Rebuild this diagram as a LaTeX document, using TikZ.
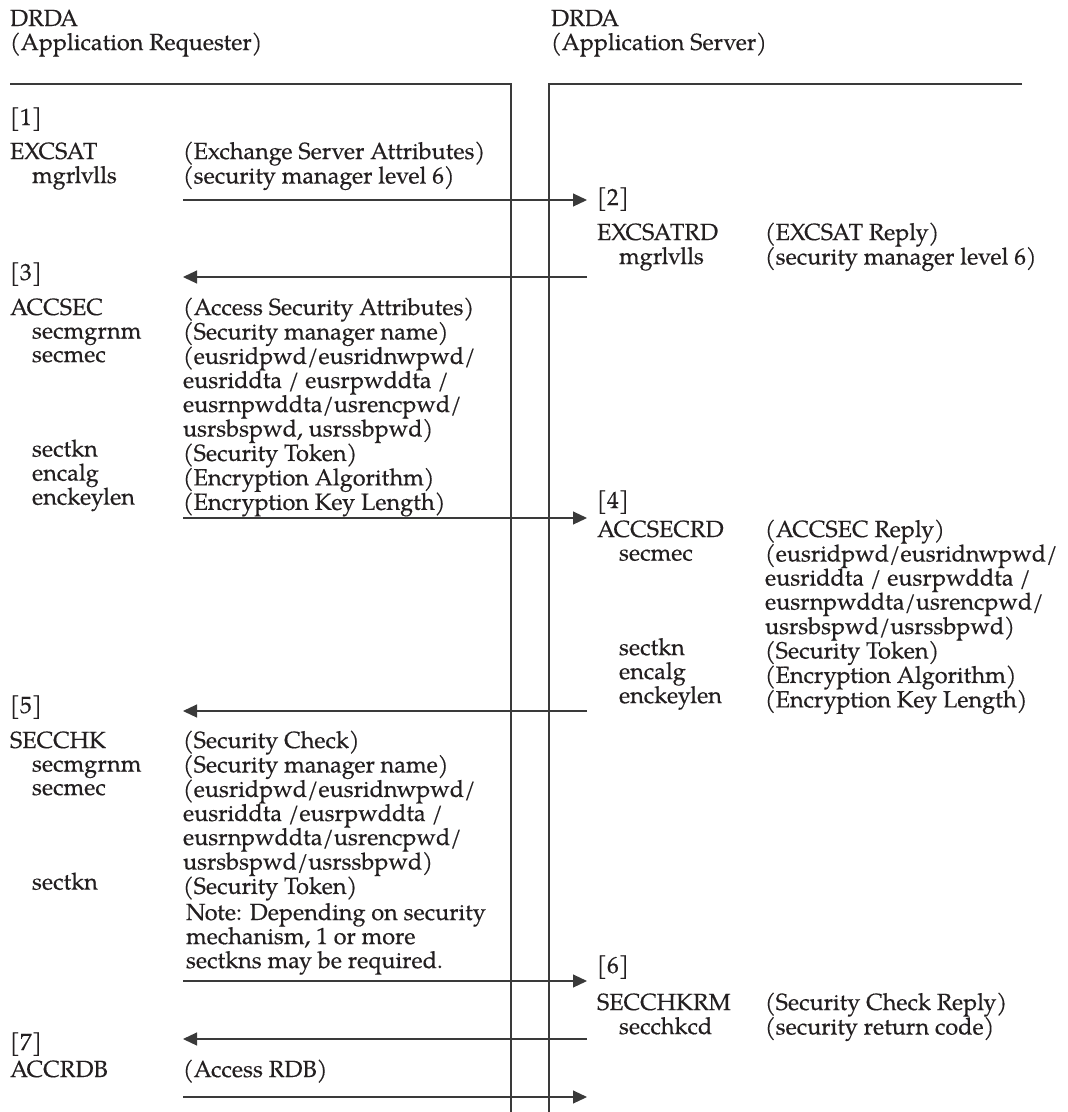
\documentclass[tikz,border=0pt]{standalone}
\usepackage{fontspec}
\setmainfont{texgyrepagella-regular.otf}[FakeBold=0.4]
\usetikzlibrary{arrows.meta}
\definecolor{ink}{HTML}{231F20}
\definecolor{linegray}{HTML}{3A3A3A}
% a column of lines whose first baseline is the node's baseline
\newcommand{\msgrows}[1]{\begin{tabular}[t]{@{}l@{}}#1\end{tabular}}
\newcommand{\argin}{\hspace*{22pt}}
\begin{document}
\begin{tikzpicture}[x=1pt,y=-1pt,
  txt/.style={anchor=base west, inner sep=0pt, outer sep=0pt,
    font=\fontsize{23.4}{23.5}\selectfont\bfseries, text=ink},
  rule/.style={draw=linegray, line width=1.1pt},
  msg/.style={draw=linegray, line width=1.1pt,
    -{Triangle[length=14pt,width=13pt]}}]
\useasboundingbox (0,0) rectangle (1068,1112);

% headings
\node[txt] (hdA)  at (10,26)  {DRDA};
\node[txt] (hdA2) at (10,50)  {(Application Requester)};
\node[txt] (hdS)  at (551,26) {DRDA};
\node[txt] (hdS2) at (551,50) {(Application Server)};

% the two system frames
\draw[rule] (10,84) -- (511,84) -- (511,1112);
\draw[rule] (1022,84) -- (549,84) -- (549,1112);

% message ends
\foreach \n/\y in {1/200,2/277,3/518,4/711,5/981,6/1039,7/1097}{
  \coordinate (L\n) at (183,\y);
  \coordinate (R\n) at (587,\y);
}

% [1] EXCSAT
\node[txt] (s1) at (10,125) {[1]};
\node[txt] (k1) at (10,159) {\msgrows{EXCSAT\\ \argin mgrlvlls}};
\node[txt] (v1) at (183,159) {\msgrows{(Exchange Server Attributes)\\(security manager level 6)}};
\draw[msg] (L1) -- (R1);

% [2] EXCSATRD
\node[txt] (s2) at (597,205) {[2]};
\node[txt] (k2) at (597,240) {\msgrows{EXCSATRD\\ \argin mgrlvlls}};
\node[txt] (v2) at (765,240) {\msgrows{(EXCSAT Reply)\\(security manager level 6)}};
\draw[msg] (R2) -- (L2);

% [3] ACCSEC
\node[txt] (s3) at (10,280) {[3]};
\node[txt] (k3) at (10,315) {\msgrows{ACCSEC\\ \argin secmgrnm\\ \argin secmec\\ \\ \\ \\ \argin sectkn\\ \argin encalg\\ \argin enckeylen}};
\node[txt] (v3) at (183,315) {\msgrows{(Access Security Attributes)\\(Security manager name)\\(eusridpwd/eusridnwpwd/\\eusriddta / eusrpwddta /\\eusrnpwddta/usrencpwd/\\usrsbspwd, usrssbpwd)\\(Security Token)\\(Encryption Algorithm)\\(Encryption Key Length)}};
\draw[msg] (L3) -- (R3);

% [4] ACCSECRD
\node[txt] (s4) at (597,508) {[4]};
\node[txt] (k4) at (597,537) {\msgrows{ACCSECRD\\ \argin secmec\\ \\ \\ \\ \argin sectkn\\ \argin encalg\\ \argin enckeylen}};
\node[txt] (v4) at (765,537) {\msgrows{(ACCSEC Reply)\\(eusridpwd/eusridnwpwd/\\eusriddta / eusrpwddta /\\eusrnpwddta/usrencpwd/\\usrsbspwd/usrssbpwd)\\(Security Token)\\(Encryption Algorithm)\\(Encryption Key Length)}};
\draw[msg] (R4) -- (L4);

% [5] SECCHK
\node[txt] (s5) at (10,713) {[5]};
\node[txt] (k5) at (10,748) {\msgrows{SECCHK\\ \argin secmgrnm\\ \argin secmec\\ \\ \\ \\ \argin sectkn}};
\node[txt] (v5) at (183,748) {\msgrows{(Security Check)\\(Security manager name)\\(eusridpwd/eusridnwpwd/\\eusriddta /eusrpwddta /\\eusrnpwddta/usrencpwd/\\usrsbspwd/usrssbpwd)\\(Security Token)}};
\node[txt] (note) at (186,920) {\msgrows{Note: Depending on security\\mechanism, 1 or more\\sectkns may be required.}};
\draw[msg] (L5) -- (R5);

% [6] SECCHKRM
\node[txt] (s6) at (597,973) {[6]};
\node[txt] (k6) at (597,1010) {\msgrows{SECCHKRM\\ \argin secchkcd}};
\node[txt] (v6) at (765,1010) {\msgrows{(Security Check Reply)\\(security return code)}};
\draw[msg] (R6) -- (L6);

% [7] ACCRDB
\node[txt] (s7) at (10,1050) {[7]};
\node[txt] (k7) at (10,1077) {ACCRDB};
\node[txt] (v7) at (183,1077) {(Access RDB)};
\draw[msg] (L7) -- (R7);
\end{tikzpicture}
\end{document}
